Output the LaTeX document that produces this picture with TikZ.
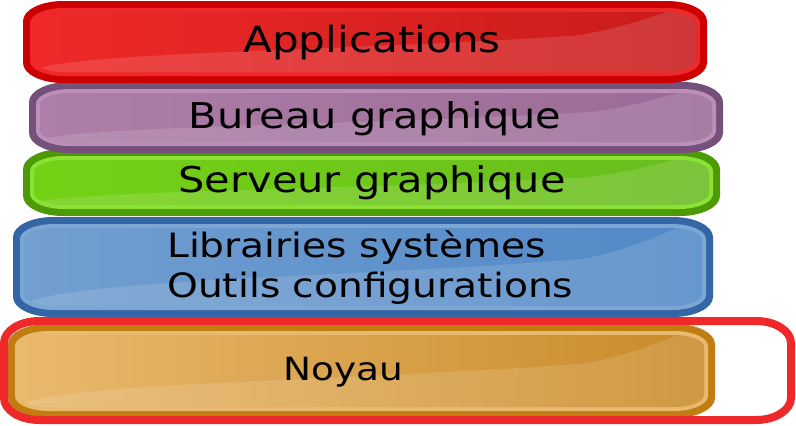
\documentclass[tikz,border=0pt]{standalone}
\usepackage{fontspec}
\setmainfont{DejaVu Sans}[FakeStretch=1.17]
\begin{document}
% oval box path with elliptical corners: x1 y1 x2 y2 rx ry (y grows downward)
\newcommand\ovalp[6]{({#1+#5},#2) -- ({#3-#5},#2)
  .. controls ({#3-0.45*#5},#2) and (#3,{#2+0.45*#6}) .. (#3,{#2+#6})
  -- (#3,{#4-#6})
  .. controls (#3,{#4-0.45*#6}) and ({#3-0.45*#5},#4) .. ({#3-#5},#4)
  -- ({#1+#5},#4)
  .. controls ({#1+0.45*#5},#4) and (#1,{#4-0.45*#6}) .. (#1,{#4-#6})
  -- (#1,{#2+#6})
  .. controls (#1,{#2+0.45*#6}) and ({#1+0.45*#5},#2) .. ({#1+#5},#2) -- cycle}
% one glossy layer: x1 y1 x2 y2 colour-prefix
\newcommand\layer[5]{%
  \fill[#5D] \ovalp{#1}{#2}{#3}{#4}{40}{20};
  \fill[#5L] \ovalp{#1+7}{#2+7}{#3-7}{#4-7}{34}{15};
  \shade[left color=#5A, right color=#5B] \ovalp{#1+11}{#2+11}{#3-11}{#4-11}{30}{12};
  \begin{scope}
    \clip \ovalp{#1+11}{#2+11}{#3-11}{#4-11}{30}{12};
    \fill[white, opacity=0.13]
      (#1,#4) -- ({#1+14},{#4-14})
      .. controls ({#1+60},{#2+0.62*(#4-#2)}) and ({#1+0.5*(#3-#1)},{#2+0.6*(#4-#2)})
      .. ({#3-130},{#2+0.42*(#4-#2)})
      .. controls ({#3-70},{#2+0.3*(#4-#2)}) and ({#3-45},{#2+0.12*(#4-#2)})
      .. ({#3-25},{#2+8}) -- (#3,#2) -- (#3,#4) -- cycle;
  \end{scope}}
\definecolor{apD}{HTML}{CC0000}\definecolor{apL}{HTML}{EF2929}
\definecolor{apA}{HTML}{EF2929}\definecolor{apB}{HTML}{C91B1B}
\definecolor{bgD}{HTML}{75507B}\definecolor{bgL}{HTML}{BB8FB7}
\definecolor{bgA}{HTML}{AD7FA8}\definecolor{bgB}{HTML}{9B6A96}
\definecolor{sgD}{HTML}{4E9A06}\definecolor{sgL}{HTML}{8AE234}
\definecolor{sgA}{HTML}{73D216}\definecolor{sgB}{HTML}{69BC1E}
\definecolor{lsD}{HTML}{3465A4}\definecolor{lsL}{HTML}{7CA7D5}
\definecolor{lsA}{HTML}{729FCF}\definecolor{lsB}{HTML}{5188C8}
\definecolor{kD}{HTML}{C17D11}\definecolor{kL}{HTML}{E9B96E}
\definecolor{kA}{HTML}{E9B96E}\definecolor{kB}{HTML}{C98B28}
\definecolor{ringred}{HTML}{EF2929}
\begin{tikzpicture}[x=1pt, y=-1pt,
  lbl/.style={inner sep=0pt, text=black}]
\useasboundingbox (0,0) rectangle (796,426);
% stack, bottom layer first
\layer{8}{324}{715}{418}{k}
\layer{13}{217}{713}{317}{ls}
\layer{23}{149}{720}{216}{sg}
\layer{29}{82}{723}{153}{bg}
\layer{23}{1}{707}{83}{ap}
% highlight ring around the kernel
\draw[ringred, line width=8pt] \ovalp{4}{321}{791}{420}{35}{22};
% labels
\node[lbl, anchor=base, font=\fontsize{36}{40}\selectfont] (app) at (372,52) {Applications};
\node[lbl, anchor=base, font=\fontsize{35.5}{40}\selectfont] (bur) at (375,128) {Bureau graphique};
\node[lbl, anchor=base, font=\fontsize{35.5}{40}\selectfont] (srv) at (372,192) {Serveur graphique};
\node[lbl, anchor=base west, align=left, font=\fontsize{33.5}{40}\selectfont] (lib) at (167,297) {Librairies systèmes\\Outils configurations};
\node[lbl, anchor=base, font=\fontsize{32}{40}\selectfont] (noy) at (343,380) {Noyau};
\end{tikzpicture}
\end{document}
